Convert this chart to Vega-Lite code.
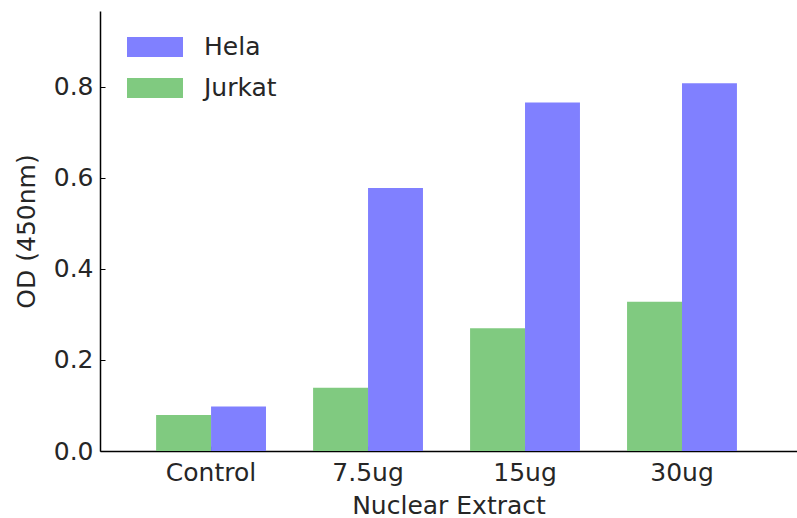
{
  "$schema": "https://vega.github.io/schema/vega-lite/v6.json",
  "width": 697,
  "height": 440,
  "autosize": {"type": "none"},
  "padding": {"left": 100, "top": 11, "right": 0, "bottom": 67},
  "background": "white",
  "config": {
    "font": "DejaVu Sans",
    "view": {"stroke": null},
    "axis": {"grid": false, "domainColor": "#000000", "domainWidth": 1.5, "tickColor": "#000000", "labelColor": "#262626", "titleColor": "#262626", "labelFontSize": 25, "titleFontSize": 25, "titleFontWeight": "normal", "labelFont": "DejaVu Sans", "titleFont": "DejaVu Sans"}
  },
  "data": {
    "values": [
      {"extract": "Control", "cell": "Jurkat", "od": 0.079},
      {"extract": "Control", "cell": "Hela", "od": 0.098},
      {"extract": "7.5ug", "cell": "Jurkat", "od": 0.139},
      {"extract": "7.5ug", "cell": "Hela", "od": 0.578},
      {"extract": "15ug", "cell": "Jurkat", "od": 0.270},
      {"extract": "15ug", "cell": "Hela", "od": 0.766},
      {"extract": "30ug", "cell": "Jurkat", "od": 0.328},
      {"extract": "30ug", "cell": "Hela", "od": 0.808}
    ]
  },
  "mark": {"type": "bar", "cornerRadius": 0},
  "encoding": {
    "x": {
      "field": "extract", "type": "nominal", "sort": ["Control", "7.5ug", "15ug", "30ug"],
      "scale": {"paddingInner": 0.3, "paddingOuter": 0.37, "align": 0.483},
      "axis": {"title": "Nuclear Extract", "labelAngle": 0, "tickSize": -5, "labelPadding": 14, "titlePadding": 8}
    },
    "xOffset": {"field": "cell", "type": "nominal", "scale": {"domain": ["Jurkat", "Hela"], "paddingInner": 0, "paddingOuter": 0}},
    "y": {
      "field": "od", "type": "quantitative",
      "scale": {"domain": [0, 0.967], "nice": false},
      "axis": {"title": "OD (450nm)", "values": [0, 0.2, 0.4, 0.6, 0.8], "format": ".1f", "tickSize": -5, "labelPadding": 12, "titlePadding": 14}
    },
    "color": {
      "field": "cell", "type": "nominal",
      "scale": {"domain": ["Hela", "Jurkat"], "range": ["#8080ff", "#80ca80"]},
      "legend": {
        "title": null, "orient": "none", "legendX": 27, "legendY": 8, "padding": 0,
        "symbolType": "M-1,-0.357H1V0.357H-1Z", "symbolSize": 3136, "symbolStrokeWidth": 0,
        "labelFontSize": 25, "labelColor": "#262626", "labelOffset": 21, "rowPadding": -16, "labelFont": "DejaVu Sans"
      }
    }
  }
}
